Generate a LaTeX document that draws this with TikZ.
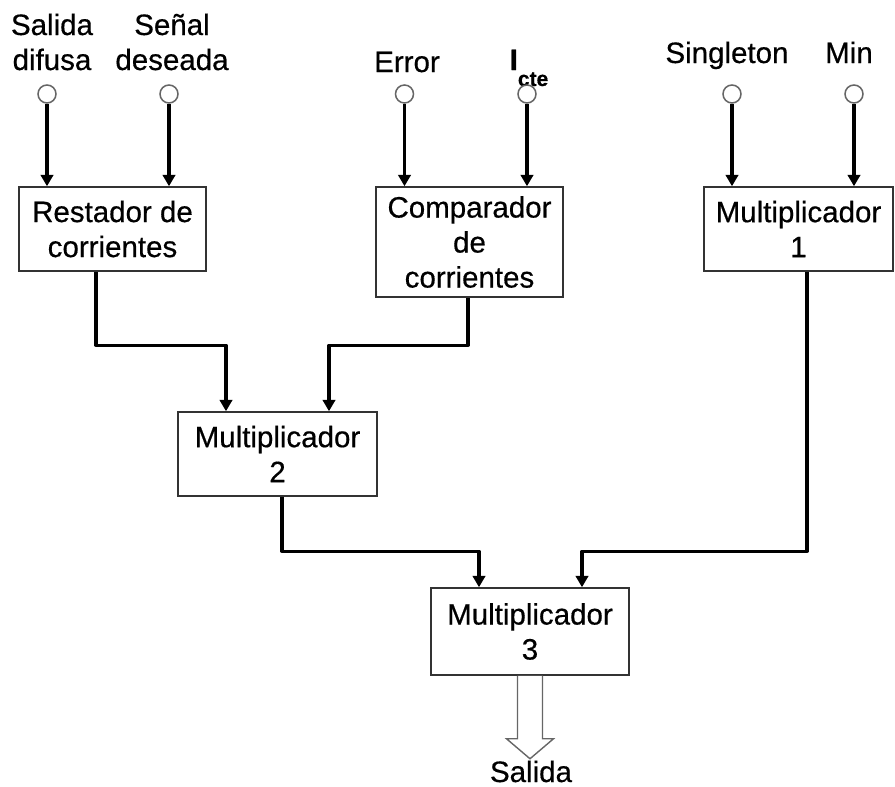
\documentclass[tikz,border=0pt]{standalone}
\usepackage{fontspec}
\setmainfont[FakeBold=0.5]{Liberation Sans}
\usetikzlibrary{arrows.meta}
\begin{document}
\begin{tikzpicture}[x=1pt,y=-1pt,
  every node/.style={font=\fontsize{29.5}{35}\selectfont},
  lbl/.style={inner sep=0pt, align=center, anchor=base},
  port/.style={circle, draw=black!60, line width=1.5pt, fill=white,
    minimum size=18pt, inner sep=0pt},
  block/.style={draw=black!80, line width=1.5pt, align=center,
    inner sep=0pt, fill=white},
  conn/.style={line width=3.2pt, line join=round,
    -{Triangle[width=12.5pt,length=11.5pt]}},
  bigarrow/.style={line width=1.4pt, draw=black!60, fill=white, line join=miter}
]
\useasboundingbox (0,0) rectangle (895,787);

% input labels (multi-line labels are placed by their last baseline)
\node[lbl] (lsd) at (52,70) {Salida\\difusa};
\node[lbl] (lsn) at (172,70) {Señal\\deseada};
\node[lbl] (ler) at (407,72) {Error};
\node[lbl] (lic) at (529,70) {\textbf{I}\raisebox{-16pt}{\fontsize{21}{21}\selectfont\bfseries cte}};
\node[lbl] (lsg) at (727,63) {Singleton};
\node[lbl] (lmn) at (849,63) {Min};

% input terminals
\node[port] (psd) at (47,94) {};
\node[port] (psn) at (169,94) {};
\node[port] (per) at (404.5,94) {};
\node[port] (pic) at (527,94) {};
\node[port] (psg) at (732,94) {};
\node[port] (pmn) at (854,94) {};

% processing blocks
\node[block, minimum width=187pt, minimum height=84pt] (rest) at (112.5,229) {Restador de\\corrientes};
\node[block, minimum width=187pt, minimum height=110pt] (comp) at (469.5,242) {Comparador\\de\\corrientes};
\node[block, minimum width=189pt, minimum height=84pt] (m1) at (798.5,229) {Multiplicador\\1};
\node[block, minimum width=199pt, minimum height=84pt] (m2) at (277.5,454) {Multiplicador\\2};
\node[block, minimum width=198pt, minimum height=87pt] (m3) at (530,631.5) {Multiplicador\\3};

% inputs into the first stage
\draw[conn] (psd) -- (psd |- rest.north);
\draw[conn] (psn) -- (psn |- rest.north);
\draw[conn] (per) -- (per |- comp.north);
\draw[conn] (pic) -- (pic |- comp.north);
\draw[conn] (psg) -- (psg |- m1.north);
\draw[conn] (pmn) -- (pmn |- m1.north);

% first stage into the multipliers
\draw[conn] ([xshift=-16.5pt]rest.south) |- ([xshift=-51.5pt,yshift=66pt]m2.north) -- ([xshift=-51.5pt]m2.north);
\draw[conn] ([xshift=-1.5pt]comp.south) |- ([xshift=51.5pt,yshift=66pt]m2.north) -- ([xshift=51.5pt]m2.north);
\draw[conn] ([xshift=4.5pt]m2.south) |- ([xshift=-51pt,yshift=36pt]m3.north) -- ([xshift=-51pt]m3.north);
\draw[conn] ([xshift=8.5pt]m1.south) |- ([xshift=52pt,yshift=36pt]m3.north) -- ([xshift=52pt]m3.north);

% output arrow
\draw[bigarrow] ([xshift=-12.5pt]m3.south) -- ++(0pt,-63pt) -- ++(-11pt,0pt)
  -- ([yshift=-83pt]m3.south) -- ++(23.5pt,20pt) -- ++(-11pt,0pt)
  -- ([xshift=12.5pt]m3.south);
\node[lbl] (lout) at (531,782) {Salida};
\end{tikzpicture}
\end{document}
